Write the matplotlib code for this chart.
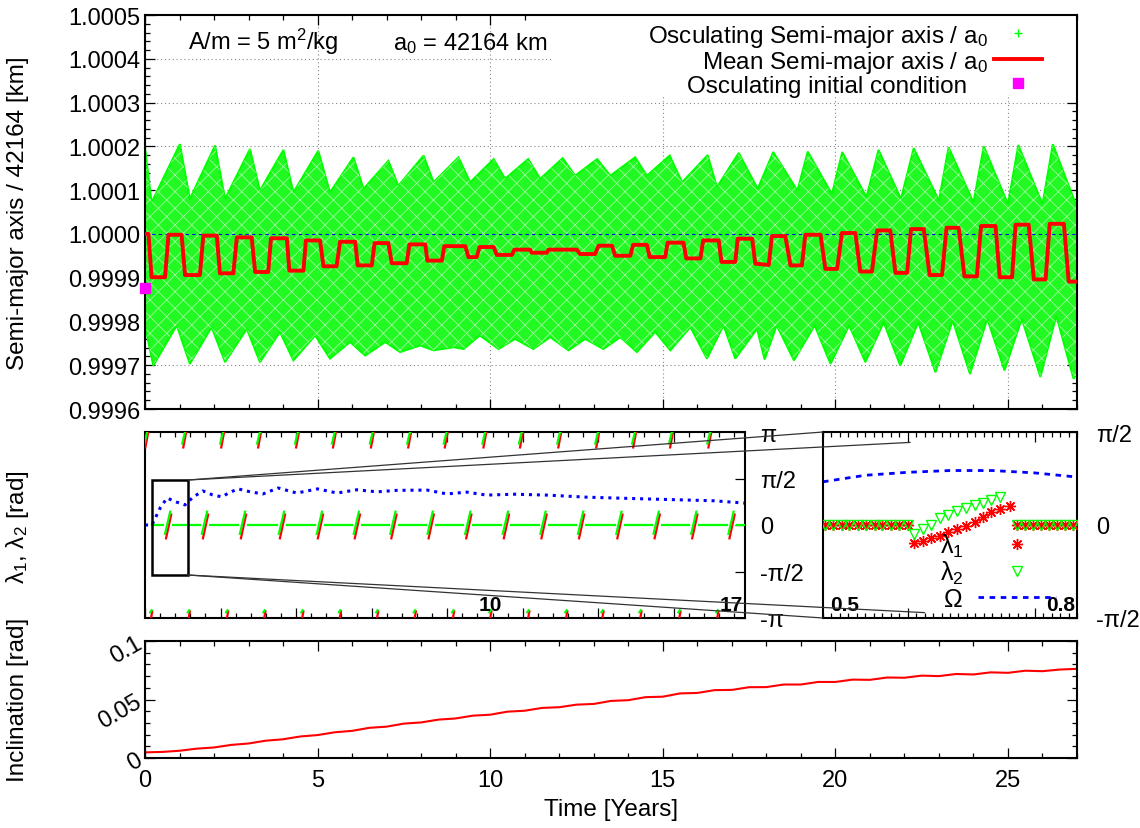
import numpy as np
import matplotlib
matplotlib.use("Agg")
import matplotlib.pyplot as plt
from matplotlib.lines import Line2D
from matplotlib.patches import Rectangle, ConnectionPatch
from matplotlib.ticker import MultipleLocator

plt.rcParams['font.family'] = ['Liberation Sans', 'DejaVu Sans']
plt.rcParams['mathtext.default'] = 'regular'
plt.rcParams['font.size'] = 17
plt.rcParams['hatch.linewidth'] = 0.6

GREEN = '#00ff00'
MAGENTA = '#ff00ff'

# ---- top panel: semi-major axis / a0 (time in years) ----
# upper and lower edge of the osculating band
osc_up_t = [0.0, 0.19, 1.01, 1.3, 2.03, 2.32, 3.04, 3.33, 4.01, 4.3, 5.02, 5.36, 6.04, 6.33,
            7.05, 7.34, 8.07, 8.36, 9.08, 9.42, 10.1, 10.43, 11.1, 11.45, 12.1, 12.46, 13.1,
            13.48, 14.2, 14.54, 15.2, 15.56, 16.3, 16.57, 17.2, 17.75, 18.2, 18.9, 19.2, 19.9,
            20.2, 20.9, 21.25, 21.9, 22.27, 23.0, 23.28, 24.0, 24.3, 25.0, 25.3, 26.0, 26.3, 27.0]
osc_up = [1.000198, 1.000072, 1.000205, 1.00008, 1.000202, 1.00008, 1.000194, 1.000099,
          1.000192, 1.000095, 1.00019, 1.000095, 1.000175, 1.000103, 1.000167, 1.00011,
          1.000179, 1.000118, 1.000175, 1.000118, 1.000171, 1.000126, 1.000171, 1.000126,
          1.000173, 1.000133, 1.000171, 1.000133, 1.000175, 1.000133, 1.000179, 1.000118,
          1.00018, 1.000107, 1.000185, 1.000103, 1.000187, 1.000099, 1.000188, 1.000091,
          1.000187, 1.000084, 1.000192, 1.00008, 1.000196, 1.000076, 1.000198, 1.000072,
          1.0002, 1.000068, 1.000203, 1.000068, 1.000205, 1.000061]
osc_lo_t = [0.0, 0.24, 0.92, 1.3, 1.93, 2.32, 2.95, 3.33, 3.91, 4.3, 4.93, 5.36, 5.94, 6.38,
            6.96, 7.39, 7.97, 8.36, 8.94, 9.23, 9.7, 10.24, 10.72, 11.25, 11.74, 12.27, 12.75,
            13.28, 13.77, 14.25, 14.78, 15.22, 15.8, 16.28, 16.76, 17.1, 17.73, 17.95, 18.3,
            18.8, 19.4, 19.86, 20.4, 20.87, 21.4, 21.88, 22.4, 22.9, 23.4, 23.9, 24.4, 24.9,
            25.4, 25.94, 26.4, 26.9, 27.0]
osc_lo = [0.99979, 0.999699, 0.999791, 0.999703, 0.999787, 0.999707, 0.999783, 0.999707,
          0.999776, 0.999711, 0.999768, 0.999715, 0.999753, 0.999722, 0.999753, 0.99973,
          0.999745, 0.999734, 0.999741, 0.999737, 0.999768, 0.999737, 0.99976, 0.999737,
          0.999764, 0.999734, 0.99976, 0.999737, 0.999764, 0.99973, 0.999776, 0.999734,
          0.999787, 0.999715, 0.999791, 0.999715, 0.999783, 0.999713, 0.999791, 0.999711,
          0.999791, 0.999703, 0.999791, 0.999707, 0.999798, 0.999699, 0.999798, 0.999684,
          0.999802, 0.99968, 0.999806, 0.999688, 0.999806, 0.999673, 0.999813, 0.999669, 0.99968]

mean_t = [0, 0.1, 0.19, 0.58, 0.68, 1.06, 1.16, 1.59, 1.69, 2.08, 2.17, 2.56, 2.66, 3.09,
          3.19, 3.57, 3.65, 4.11, 4.18, 4.59, 4.66, 5.07, 5.17, 5.55, 5.65, 6.09, 6.16, 6.57,
          6.65, 7.05, 7.15, 7.58, 7.66, 8.12, 8.18, 8.6, 8.67, 9.28, 9.37, 9.61, 9.69, 10.1,
          10.19, 10.63, 10.7, 11.16, 11.2, 11.64, 11.69, 12.51, 12.6, 13.04, 13.14, 13.53,
          13.62, 14.06, 14.14, 14.54, 14.62, 15.07, 15.14, 15.6, 15.68, 16.09, 16.17, 16.62,
          16.7, 17.1, 17.17, 17.59, 17.68, 18.07, 18.16, 18.55, 18.7, 19.03, 19.13, 19.57,
          19.71, 20.05, 20.19, 20.58, 20.72, 21.06, 21.21, 21.59, 21.74, 22.08, 22.19, 22.56,
          22.73, 23.09, 23.22, 23.57, 23.74, 24.1, 24.22, 24.64, 24.76, 25.12, 25.22, 25.6,
          25.75, 26.09, 26.21, 26.62, 26.76, 27.0]
mean_a = [1.0, 1.0, 0.999901, 0.999901, 0.999998, 0.999998, 0.999906, 0.999906, 0.999996,
          0.999996, 0.99991, 0.99991, 0.999992, 0.999992, 0.999913, 0.999913, 0.99999, 0.99999,
          0.999916, 0.999916, 0.999985, 0.999985, 0.999926, 0.999926, 0.999982, 0.999982,
          0.999928, 0.999928, 0.999979, 0.999979, 0.999933, 0.999933, 0.999976, 0.999976,
          0.999939, 0.999939, 0.999972, 0.999972, 0.999947, 0.999947, 0.99997, 0.99997,
          0.999952, 0.999952, 0.999964, 0.999964, 0.999957, 0.999957, 0.999964, 0.999964,
          0.999954, 0.999954, 0.999973, 0.999973, 0.99995, 0.99995, 0.999975, 0.999975,
          0.999947, 0.999947, 0.99998, 0.99998, 0.999944, 0.999944, 0.999985, 0.999985,
          0.999936, 0.999936, 0.999989, 0.999989, 0.999932, 0.999929, 0.999995, 0.999995,
          0.999928, 0.999928, 0.999998, 0.999998, 0.99992, 0.99992, 1.000002, 1.000002,
          0.999914, 0.999914, 1.000008, 1.000008, 0.999911, 0.999911, 1.000011, 1.000011,
          0.999906, 0.999906, 1.000014, 1.000014, 0.999903, 0.999903, 1.000018, 1.000018,
          0.999901, 0.999901, 1.000021, 1.000021, 0.999896, 0.999896, 1.000023, 1.000023,
          0.999891, 0.999891]
init_t = [0.0]
init_a = [0.999877]
a_ticks = [0.9996, 0.9997, 0.9998, 0.9999, 1.0, 1.0001, 1.0002, 1.0003, 1.0004, 1.0005]

# ---- middle panels: lambda1, lambda2, Omega [rad] ----
lam_mid_t = [0.67, 1.74, 2.84, 3.97, 5.07, 6.14, 7.2, 8.28, 9.37, 10.46, 11.55, 12.64,
             13.75, 14.83, 15.92, 17.0]
lam_top_t = [0.06, 1.16, 2.26, 3.33, 4.43, 5.5, 6.6, 7.68, 8.74, 9.86, 10.92, 12.03, 13.13,
             14.2, 15.27, 16.38]
lam_bot_t = [0.17, 1.26, 2.37, 3.45, 4.55, 5.64, 6.72, 7.81, 8.92, 10.0, 11.1, 12.2, 13.25,
             14.35, 15.48, 16.58]
om_t = [0, 0.2, 0.45, 0.64, 0.9, 1.16, 1.4, 1.68, 1.95, 2.23, 2.45, 2.7, 3.05, 3.42, 3.86,
        4.4, 5.0, 5.57, 6.14, 6.72, 7.3, 8.17, 8.75, 9.33, 9.9, 10.7, 11.65, 12.8, 14.55,
        16.46, 17.39]
om = [0, 0, 0.6, 0.91, 0.78, 0.68, 0.95, 1.15, 1.02, 0.95, 1.1, 1.22, 1.12, 1.05, 1.25,
      1.08, 1.22, 1.08, 1.19, 1.12, 1.17, 1.18, 1.05, 1.11, 1.01, 1.04, 1.01, 0.94, 0.88,
      0.82, 0.74]

# zoom window 0.5 - 0.8
zero_t_a = [0.502, 0.512, 0.522, 0.531, 0.541, 0.551, 0.561, 0.570, 0.580, 0.590, 0.600]
zero_t_b = [0.729, 0.738, 0.748, 0.757, 0.767, 0.776, 0.786, 0.795]
lam1_t = [0.607, 0.618, 0.628, 0.638, 0.648, 0.658, 0.669, 0.679, 0.689, 0.698, 0.709, 0.721]
lam1 = [-0.30, -0.265, -0.225, -0.18, -0.123, -0.068, -0.012, 0.056, 0.13, 0.215, 0.265, 0.316]
lam2_t = [0.607, 0.618, 0.628, 0.638, 0.648, 0.658, 0.669, 0.679, 0.689, 0.698, 0.709]
lam2 = [-0.15, -0.07, 0.0, 0.11, 0.17, 0.24, 0.28, 0.34, 0.38, 0.43, 0.47]
omz_t = [0.5, 0.55, 0.6, 0.65, 0.7, 0.75, 0.8]
omz = [0.73, 0.84, 0.89, 0.92, 0.92, 0.88, 0.81]

# ---- bottom panel: inclination ----
inc_t = [0, 0.5, 1, 1.5, 2, 2.5, 3, 3.5, 4, 4.5, 5, 5.5, 6, 6.5, 7, 7.5, 8, 8.5, 9, 9.5,
         10, 10.5, 11, 11.5, 12, 12.5, 13, 13.5, 14, 14.5, 15, 15.5, 16, 16.5, 17, 17.5,
         18, 18.5, 19, 19.5, 20, 20.5, 21, 21.5, 22, 22.5, 23, 23.5, 24, 24.5, 25, 25.5,
         26, 26.5, 27]
inc = [0.0048, 0.0052, 0.0062, 0.0080, 0.0090, 0.0112, 0.0124, 0.0148, 0.0160, 0.0184,
       0.0196, 0.0220, 0.0232, 0.0258, 0.0268, 0.0294, 0.0304, 0.0328, 0.0338, 0.0362,
       0.0370, 0.0396, 0.0404, 0.0428, 0.0434, 0.0456, 0.0462, 0.0488, 0.0494, 0.0520,
       0.0524, 0.0552, 0.0556, 0.0580, 0.0582, 0.0605, 0.0606, 0.0628, 0.0628, 0.0650,
       0.0650, 0.0670, 0.0668, 0.0688, 0.0686, 0.0704, 0.0700, 0.0718, 0.0714, 0.0732,
       0.0728, 0.0746, 0.0742, 0.0756, 0.0762]

PI = np.pi


def px_box(x0, y0, x1, y1):
    return [x0 / 1140, 1 - y1 / 829, (x1 - x0) / 1140, (y1 - y0) / 829]


def style(ax):
    for s in ax.spines.values():
        s.set_linewidth(1.5)
    ax.tick_params(which='both', direction='in', width=0.9, labelsize=17)
    ax.tick_params(which='major', length=7)
    ax.tick_params(which='minor', length=3.5)


fig = plt.figure(figsize=(11.4, 8.29), dpi=100)

# top
ax1 = fig.add_axes(px_box(145, 16, 1077, 410))
style(ax1)
band_x = np.concatenate([osc_up_t, osc_lo_t[::-1]])
band_y = np.concatenate([osc_up, osc_lo[::-1]])
ax1.fill(band_x, band_y, fc='#22f822', ec=GREEN, lw=1.4, zorder=2)
# speckle texture of the dense '+' cloud
ax1.fill(band_x, band_y, fc='none', ec='white', lw=0, hatch='xx', alpha=0.55, zorder=2.1)
ax1.axhline(1.0, color='blue', lw=0.8, ls=(0, (3, 3)), zorder=3)
ax1.plot(mean_t, mean_a, color='red', lw=2.8, zorder=4)
ax1.plot(init_t, init_a, 's', color=MAGENTA, ms=7, clip_on=False, zorder=5)
ax1.set_xlim(0, 27)
ax1.set_ylim(0.9996, 1.0005)
ax1.xaxis.set_major_locator(MultipleLocator(5))
ax1.xaxis.set_minor_locator(MultipleLocator(1))
ax1.set_yticks(a_ticks)
ax1.set_yticklabels(['%.4f' % v for v in a_ticks])
ax1.yaxis.set_minor_locator(MultipleLocator(0.00002))
ax1.tick_params(which='both', top=True, right=True, labelbottom=False)
ax1.grid(True, which='major', color='#888888', ls=(0, (1, 2.5)), lw=0.8)
ax1.set_axisbelow(True)
ax1.add_patch(Rectangle((0.438, 0.794), 0.562, 0.206, transform=ax1.transAxes,
                        fc='white', ec='none', zorder=1))
hs = [Line2D([], [], ls='none', marker='+', ms=6, mew=1, color=GREEN),
      Line2D([], [], color='red', lw=2.8),
      Line2D([], [], ls='none', marker='s', ms=7, color=MAGENTA)]
ax1.legend(hs, ['Osculating Semi-major axis / a$_0$', 'Mean Semi-major axis / a$_0$',
                'Osculating initial condition   '],
           loc='upper right', bbox_to_anchor=(0.981, 1.024), markerfirst=False, frameon=False,
           handlelength=2.0, handletextpad=0.25, labelspacing=0.0, borderpad=0.2, fontsize=17.5)
ax1.text(0.046, 0.914, 'A/m = 5 m$^2$/kg', transform=ax1.transAxes, fontsize=17)
ax1.text(0.266, 0.914, 'a$_0$ = 42164 km', transform=ax1.transAxes, fontsize=17)

# middle left
ax2 = fig.add_axes(px_box(145, 433, 745, 619))
style(ax2)
ax2.plot(om_t, om, color='blue', lw=2.2, ls=(0, (1, 1.6)), zorder=2)
zs = [0.2] + [t + 0.15 for t in lam_mid_t]
ze = [t - 0.14 for t in lam_mid_t] + [17.39]
for a, b in zip(zs, ze):
    ax2.plot([a, b], [0, 0], color=GREEN, lw=1.6, zorder=3)
for t in lam_mid_t:
    ax2.plot([t - 0.06, t + 0.09], [-0.45, 0.35], color='red', lw=1.6, zorder=3)
    ax2.plot([t - 0.09, t + 0.06], [-0.3, 0.45], color=GREEN, lw=1.6, zorder=3)
for t in lam_top_t:
    ax2.plot([t - 0.05, t + 0.05], [2.62, PI + 0.1], color='red', lw=1.6, zorder=3)
    ax2.plot([t - 0.08, t + 0.02], [2.75, PI + 0.1], color=GREEN, lw=1.6, zorder=3)
for t in lam_bot_t:
    ax2.plot([t - 0.01, t + 0.04], [-PI - 0.1, -2.92], color='red', lw=1.6, zorder=3)
    ax2.plot([t - 0.02, t + 0.02], [-2.95, -2.88], color=GREEN, lw=1.6, zorder=3)
ax2.add_patch(Rectangle((0.2, -1.69), 1.05, 3.21, fill=False, ec='black', lw=1.8, zorder=5))
ax2.set_xlim(0, 17.39)
ax2.set_ylim(-PI, PI)
ax2.xaxis.set_major_locator(MultipleLocator(2.19))
ax2.xaxis.set_minor_locator(MultipleLocator(0.438))
ax2.yaxis.tick_right()
ax2.set_yticks([-PI, -PI / 2, 0, PI / 2, PI])
ax2.set_yticklabels(['-π', '-π/2', '0', 'π/2', 'π'])
ax2.tick_params(which='both', top=True, bottom=True, left=False, right=True,
                labelbottom=False, labelright=True, labelleft=False)
ax2.tick_params(axis='y', pad=11)
ax2.text(10, -2.7, '10', ha='center', va='center', fontsize=15, fontweight='bold')
ax2.text(17, -2.7, '17', ha='center', va='center', fontsize=15, fontweight='bold')

# middle right (zoom)
ax3 = fig.add_axes(px_box(823, 433, 1077, 619))
style(ax3)
ax3.plot(omz_t, omz, color='blue', lw=2, ls=(0, (2, 2)), zorder=2)
ax3.plot(zero_t_a + lam1_t + zero_t_b, [0] * len(zero_t_a) + lam1 + [0] * len(zero_t_b),
         ls='none', marker=(8, 2, 0), ms=8, mew=1, color='red', zorder=3)
ax3.plot(zero_t_a + lam2_t + zero_t_b, [0] * len(zero_t_a) + lam2 + [0] * len(zero_t_b),
         ls='none', marker='v', ms=7, mfc='none', mec=GREEN, mew=1, zorder=4)
ax3.set_xlim(0.5, 0.8)
ax3.set_ylim(-PI / 2, PI / 2)
ax3.xaxis.set_major_locator(MultipleLocator(0.15))
ax3.xaxis.set_minor_locator(MultipleLocator(0.01))
ax3.yaxis.tick_right()
ax3.set_yticks([-PI / 2, 0, PI / 2])
ax3.set_yticklabels(['-π/2', '0', 'π/2'])
ax3.tick_params(which='both', top=True, bottom=True, left=False, right=True,
                labelbottom=False, labelright=True, labelleft=False)
ax3.tick_params(axis='y', pad=14)
ax3.text(0.508, -1.35, '0.5', ha='left', va='center', fontsize=15, fontweight='bold')
ax3.text(0.7975, -1.35, '0.8', ha='right', va='center', fontsize=15, fontweight='bold')
hs3 = [Line2D([], [], ls='none', marker=(8, 2, 0), ms=8, mew=1, color='red'),
       Line2D([], [], ls='none', marker='v', ms=7, mfc='none', mec=GREEN, mew=1),
       Line2D([], [], color='blue', lw=2, ls=(0, (2, 2)))]
ax3.legend(hs3, ['λ$_1$', 'λ$_2$', 'Ω'], loc='lower right', bbox_to_anchor=(0.985, -0.055),
           markerfirst=False, frameon=False, handlelength=3.1, handletextpad=0.6,
           labelspacing=0.02, borderpad=0.2, fontsize=18)

# zoom box connectors
for (ya, xb, yb) in [(1.52, 0.5, PI / 2), (-1.69, 0.5, -PI / 2),
                     (1.52, 0.603, 1.395), (-1.69, 0.62, -1.48)]:
    con = ConnectionPatch(xyA=(1.25, ya), coordsA=ax2.transData, xyB=(xb, yb),
                          coordsB=ax3.transData, color='#333333', lw=0.9, zorder=6)
    fig.add_artist(con)

# bottom
ax4 = fig.add_axes(px_box(145, 642, 1077, 759))
style(ax4)
ax4.plot(inc_t, inc, color='red', lw=1.5)
ax4.set_xlim(0, 27)
ax4.set_ylim(0, 0.1)
ax4.xaxis.set_major_locator(MultipleLocator(5))
ax4.xaxis.set_minor_locator(MultipleLocator(1))
ax4.set_yticks([0, 0.05, 0.1])
ax4.set_yticklabels(['0', '0.05', '0.1'])
ax4.yaxis.set_minor_locator(MultipleLocator(0.01))
ax4.tick_params(which='both', top=True, right=True)
ax4.tick_params(axis='x', pad=8)
for lb in ax4.get_yticklabels():
    lb.set_rotation(30)
    lb.set_rotation_mode('anchor')
    lb.set_ha('right')
    lb.set_va('center')
ax4.set_xlabel('Time [Years]', fontsize=17.5, labelpad=5)

fig.text(18 / 1140, 1 - 213 / 829, 'Semi-major axis / 42164 [km]', rotation=90,
         ha='center', va='center', fontsize=17.5)
fig.text(18 / 1140, 1 - 527 / 829, 'λ$_1$, λ$_2$ [rad]', rotation=90,
         ha='center', va='center', fontsize=17.5)
fig.text(18 / 1140, 1 - 700 / 829, 'Inclination [rad]', rotation=90,
         ha='center', va='center', fontsize=17.5)

fig.savefig('out.png', dpi=100)
